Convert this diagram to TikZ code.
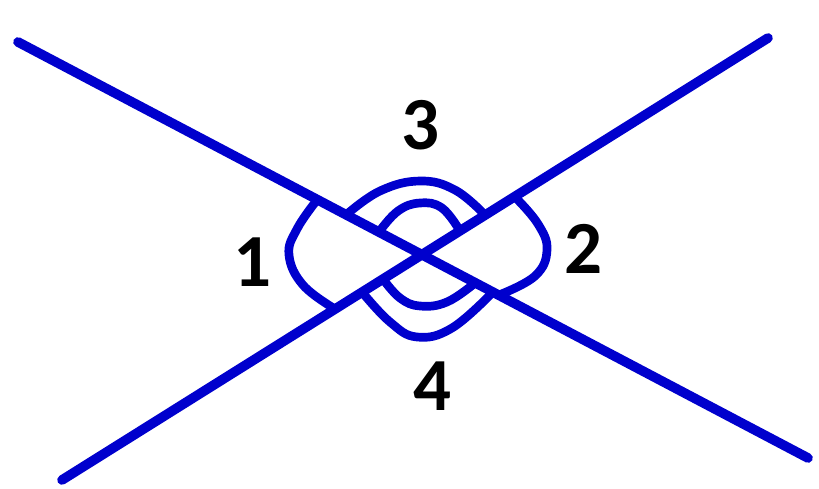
\documentclass[tikz,border=0pt]{standalone}
\usepackage{fontspec}
\setmainfont{Carlito}
\begin{document}
\begin{tikzpicture}[x=0.03cm,y=-0.03cm,line cap=round,line join=round]
\definecolor{kblue}{RGB}{0,0,205}
\tikzset{
  strand/.style={draw=kblue,line width=0.29cm},
  loopline/.style={draw=kblue,line width=0.26cm},
  lbl/.style={font=\fontsize{64}{64}\selectfont\bfseries,text=black,inner sep=0pt}
}
\fill[white] (0,0) rectangle (819,489);
\useasboundingbox (0,0) rectangle (819,489);
% strand end points
\coordinate (a1) at (18,42);
\coordinate (a2) at (808,458);
\coordinate (b1) at (62,480);
\coordinate (b2) at (768,38);
\draw[strand] (a1) -- (a2);
\draw[strand] (b1) -- (b2);
% loops
\draw[loopline] plot[smooth,tension=0.7] coordinates {(317,200) (297,229) (289,255) (303,285) (335,309)};
\draw[loopline] plot[smooth,tension=0.7] coordinates {(515,197) (538,224) (547,250) (535,276) (499,295)};
\draw[loopline] plot[smooth,tension=0.7] coordinates {(346,215) (380,191) (420,181) (455,190) (485,215)};
\draw[loopline] plot[smooth,tension=0.7] coordinates {(379,232) (398,211) (420,203) (442,208) (460,231)};
\draw[loopline] plot[smooth,tension=0.7] coordinates {(383,279) (400,298) (420,306) (447,302) (475,283)};
\draw[loopline] plot[smooth,tension=0.7] coordinates {(362,292) (390,322) (417,337) (452,328) (493,292)};
% labels
\node[lbl] (l1) at (252,262) {1};
\node[lbl] (l2) at (583,249) {2};
\node[lbl] (l3) at (420,125) {3};
\node[lbl] (l4) at (432,386) {4};
\end{tikzpicture}
\end{document}
